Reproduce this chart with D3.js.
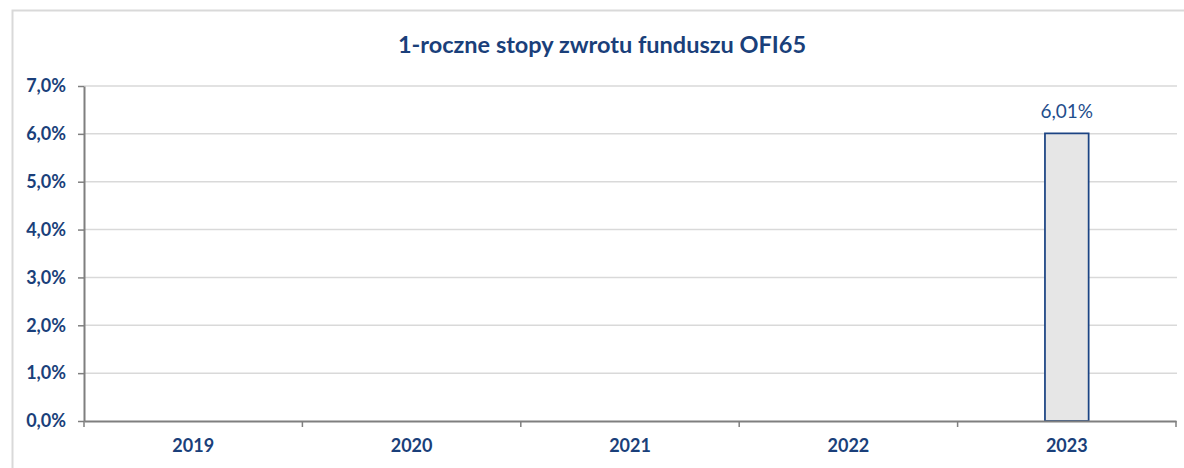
<!DOCTYPE html>
<html>
<head>
<meta charset="utf-8">
<script src="https://cdn.jsdelivr.net/npm/d3@7"></script>
<style>
  body { margin: 0; background: #fff; }
  svg { display: block; font-family: Lato, "Open Sans", sans-serif; }
</style>
</head>
<body>
<svg id="chart"></svg>
<script>
const width = 1184;
const height = 468;
const title = '1-roczne stopy zwrotu funduszu OFI65';
const years = ['2019', '2020', '2021', '2022', '2023'];
const returns = [null, null, null, null, 6.01];
const yTicks = [0, 1, 2, 3, 4, 5, 6, 7];

const navy = '#1f4e8c';
const textBlue = '#1a3f7a';
const margin = { top: 86, right: 8, bottom: 47, left: 84 };

const svg = d3.select('#chart')
    .attr('width', width)
    .attr('height', height);

// outer frame
svg.append('rect')
    .attr('x', 12.5).attr('y', 10.5)
    .attr('width', 1200).attr('height', 500)
    .attr('fill', 'none')
    .attr('stroke', '#d9d9d9')
    .attr('stroke-width', 2);

svg.append('text')
    .attr('x', 602).attr('y', 53)
    .attr('text-anchor', 'middle')
    .attr('fill', textBlue)
    .style('font-size', '23.5px')
    .style('font-weight', 'bold')
    .text(title);

const x = d3.scaleBand()
    .domain(years)
    .range([margin.left, width - margin.right])
    .paddingInner(0)
    .paddingOuter(0);

const y = d3.scaleLinear()
    .domain([0, 7])
    .range([height - margin.bottom, margin.top]);

const fmt = v => d3.format('.1f')(v).replace('.', ',') + '%';

// grid
svg.append('g')
    .selectAll('line')
    .data(yTicks.filter(d => d > 0))
    .enter().append('line')
    .attr('x1', margin.left).attr('x2', width - margin.right + 1)
    .attr('y1', d => y(d)).attr('y2', d => y(d))
    .attr('stroke', '#d9d9d9')
    .attr('stroke-width', 1.5);

// bars
const barW = x.bandwidth() / 5;
const bars = years.map((yr, i) => ({ year: yr, value: returns[i] })).filter(d => d.value !== null);

svg.append('g')
    .selectAll('rect')
    .data(bars)
    .enter().append('rect')
    .attr('x', d => x(d.year) + (x.bandwidth() - barW) / 2)
    .attr('y', d => y(d.value))
    .attr('width', barW)
    .attr('height', d => y(0) - y(d.value))
    .attr('fill', '#e6e6e6')
    .attr('stroke', '#1c4483')
    .attr('stroke-width', 1.75);

svg.append('g')
    .selectAll('text')
    .data(bars)
    .enter().append('text')
    .attr('x', d => x(d.year) + x.bandwidth() / 2)
    .attr('y', d => y(d.value) - 15)
    .attr('text-anchor', 'middle')
    .attr('fill', navy)
    .style('font-size', '19px')
    .text(d => d3.format('.2f')(d.value).replace('.', ',') + '%');

// y axis
const yAxis = svg.append('g')
    .attr('transform', `translate(${margin.left},0)`)
    .call(d3.axisLeft(y).tickValues(yTicks).tickFormat(fmt).tickSize(6).tickSizeOuter(0).tickPadding(12));

// x axis
const xAxis = svg.append('g')
    .attr('transform', `translate(0,${y(0)})`)
    .call(d3.axisBottom(x).tickSize(0).tickPadding(18));

// category boundary ticks
svg.append('g')
    .selectAll('line')
    .data(years.map(d => x(d)).concat([width - margin.right]))
    .enter().append('line')
    .attr('x1', d => d).attr('x2', d => d)
    .attr('y1', y(0)).attr('y2', y(0) + 6)
    .attr('stroke', '#7f7f7f')
    .attr('stroke-width', 1.5);

[yAxis, xAxis].forEach(a => {
    a.select('.domain').attr('stroke', '#7f7f7f').attr('stroke-width', 2);
    a.selectAll('.tick line').attr('stroke', '#7f7f7f').attr('stroke-width', 1.5);
    a.selectAll('.tick text')
        .attr('fill', textBlue)
        .style('font-size', '18px')
        .style('font-weight', 'bold')
        .style('font-family', 'Lato, "Open Sans", sans-serif');
});
</script>
</body>
</html>
